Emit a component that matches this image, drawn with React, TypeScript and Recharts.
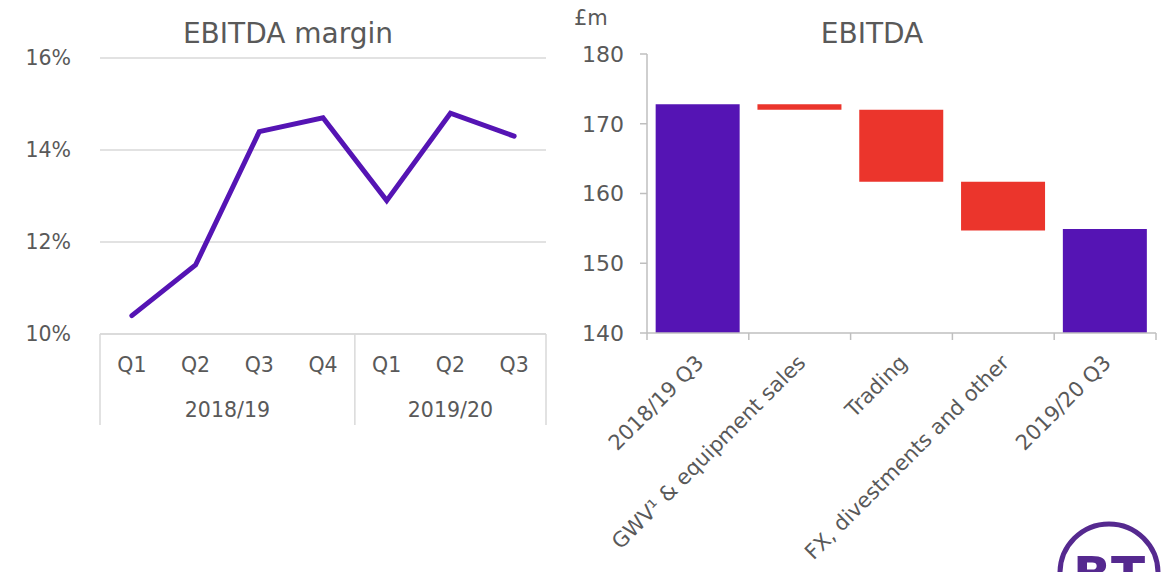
import React from 'react';
import { LineChart, Line, BarChart, Bar, Cell, XAxis, YAxis, CartesianGrid } from 'recharts';

const FONT = '"DejaVu Sans", Lato, sans-serif';
const TEXT = '#595959';
const GRID = '#d9d9d9';
const AXIS = '#bfbfbf';
const PURPLE = '#5514B4';
const RED = '#EB352C';

// EBITDA margin (%)
const quarters = ['Q1', 'Q2', 'Q3', 'Q4', 'Q1', 'Q2', 'Q3'];
const quarterYears = ['2018/19', '2018/19', '2018/19', '2018/19', '2019/20', '2019/20', '2019/20'];
const marginValues = [10.4, 11.5, 14.4, 14.7, 12.9, 14.8, 14.3];
const marginTicks = [10, 12, 14, 16];

// EBITDA bridge (£m)
const bridgeLabels = ['2018/19 Q3', 'GWV\u00B9 & equipment sales', 'Trading', 'FX, divestments and other', '2019/20 Q3'];
const bridgeLow = [140, 172.0, 161.7, 154.7, 140];
const bridgeHigh = [172.8, 172.8, 172.0, 161.7, 154.9];
const bridgeKind = ['total', 'down', 'down', 'down', 'total'];
const bridgeTicks = [140, 150, 160, 170, 180];

// quarter index is the category key so repeated Q labels stay separate
const marginData = quarters.map((q, i) => ({ key: i, q, year: quarterYears[i], value: marginValues[i] }));
const bridgeData = bridgeLabels.map((name, i) => ({ name, range: [bridgeLow[i], bridgeHigh[i]], kind: bridgeKind[i] }));

// left chart layout
const LW = 570;
const LM = { top: 58, right: 24, left: 0, bottom: 138 };
const LY_W = 100;
const HALF_BAND = (LW - LM.left - LM.right - LY_W) / quarters.length / 2; // points sit mid-category like Excel
const BOX_DEPTH = 91;

function QuarterTick(props: any) {
  const { x, y, index } = props;
  const half = HALF_BAND;
  const yr = quarterYears[index];
  const isFirstOfYear = index === 0 || quarterYears[index - 1] !== yr;
  const isLast = index === quarters.length - 1;
  const count = quarterYears.filter((v) => v === yr).length;
  return (
    <g>
      <text x={x} y={y + 38} textAnchor="middle" fill={TEXT} fontSize={20.5} fontFamily={FONT}>
        {quarters[index]}
      </text>
      {isFirstOfYear && (
        <>
          <line x1={x - half} x2={x - half} y1={y} y2={y + BOX_DEPTH} stroke={GRID} strokeWidth={1.5} />
          <text x={x - half + count * half} y={y + 83} textAnchor="middle" fill={TEXT} fontSize={20.5} fontFamily={FONT}>
            {yr}
          </text>
        </>
      )}
      {isLast && <line x1={x + half} x2={x + half} y1={y} y2={y + BOX_DEPTH} stroke={GRID} strokeWidth={1.5} />}
    </g>
  );
}

function BridgeTick(props: any) {
  const { x, y, payload, index } = props;
  const half = payload.offset || 0;
  const isLast = index === bridgeLabels.length - 1;
  const ax = x + 7;
  const ay = y + 31;
  return (
    <g>
      <line x1={x - half} x2={x - half} y1={y} y2={y + 7} stroke={AXIS} strokeWidth={1.5} />
      {isLast && <line x1={x + half} x2={x + half} y1={y} y2={y + 7} stroke={AXIS} strokeWidth={1.5} />}
      <text
        x={ax}
        y={ay}
        textAnchor="end"
        transform={`rotate(-45 ${ax} ${ay})`}
        fill={TEXT}
        fontSize={21}
        fontFamily={FONT}
      >
        {payload.value}
      </text>
    </g>
  );
}

export default function App() {
  return (
    <div style={{ position: 'absolute', left: 0, top: 0, width: 1163, height: 572, background: '#fff', overflow: 'hidden', fontFamily: FONT }}>
      <div style={{ position: 'absolute', left: 0, top: 0 }}>
        <LineChart width={LW} height={572} data={marginData} margin={LM}>
          <text x={288} y={43} textAnchor="middle" fill={TEXT} fontSize={28} fontFamily={FONT}>
            EBITDA margin
          </text>
          <CartesianGrid vertical={false} stroke={GRID} strokeWidth={1.5} />
          <XAxis
            dataKey="key"
            type="category"
            interval={0}
            padding={{ left: HALF_BAND, right: HALF_BAND }}
            axisLine={{ stroke: GRID, strokeWidth: 1.5 }}
            tickLine={false}
            tickSize={0}
            tickMargin={0}
            height={100}
            tick={<QuarterTick />}
          />
          <YAxis
            domain={[10, 16]}
            ticks={marginTicks}
            tickFormatter={(v: number) => `${v}%`}
            axisLine={false}
            tickLine={false}
            tickSize={0}
            tickMargin={29}
            width={LY_W}
            tick={{ fill: TEXT, fontSize: 20.5, fontFamily: FONT }}
          />
          <Line
            dataKey="value"
            stroke={PURPLE}
            strokeWidth={5}
            strokeLinecap="round"
            dot={false}
            activeDot={false}
            isAnimationActive={false}
          />
        </LineChart>
      </div>
      <div style={{ position: 'absolute', left: 570, top: 0 }}>
        <BarChart width={593} height={572} data={bridgeData} margin={{ top: 54, right: 7, left: 0, bottom: 89 }} barCategoryGap="8.5%">
          <text x={4} y={25} fill={TEXT} fontSize={21} fontFamily={FONT}>
            £m
          </text>
          <text x={302} y={43} textAnchor="middle" fill={TEXT} fontSize={28} fontFamily={FONT}>
            EBITDA
          </text>
          <XAxis
            dataKey="name"
            interval={0}
            axisLine={{ stroke: AXIS, strokeWidth: 1.5 }}
            tickLine={false}
            tickSize={0}
            tickMargin={0}
            height={150}
            tick={<BridgeTick />}
          />
          <YAxis
            domain={[140, 180]}
            ticks={bridgeTicks}
            axisLine={{ stroke: AXIS, strokeWidth: 1.5 }}
            tickLine={{ stroke: AXIS, strokeWidth: 1.5 }}
            tickSize={7}
            tickMargin={16}
            width={77}
            tick={{ fill: TEXT, fontSize: 22, fontFamily: FONT }}
          />
          <Bar dataKey="range" isAnimationActive={false}>
            {bridgeData.map((d, i) => (
              <Cell key={i} fill={d.kind === 'total' ? PURPLE : RED} />
            ))}
          </Bar>
        </BarChart>
      </div>
      <svg style={{ position: 'absolute', left: 1040, top: 500 }} width={123} height={72}>
        <circle cx={69} cy={73} r={49} fill="none" stroke="#55298f" strokeWidth={5} />
        <text x={69} y={92} textAnchor="middle" fill="#55298f" fontSize={50} fontWeight={700} fontFamily={FONT}>
          BT
        </text>
      </svg>
    </div>
  );
}
